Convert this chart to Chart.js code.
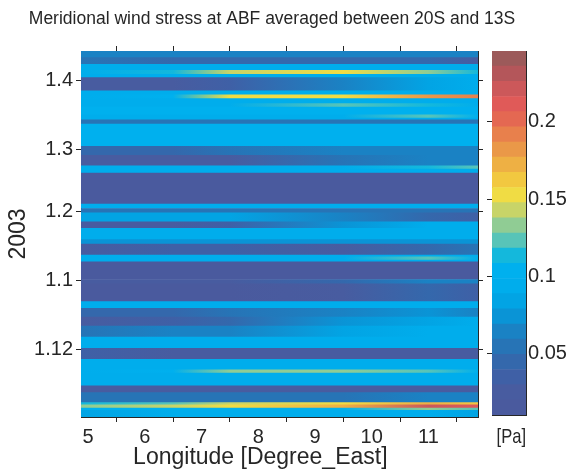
<!DOCTYPE html>
<html>
<head>
<meta charset="utf-8">
<script src="https://cdn.jsdelivr.net/npm/chart.js@4.4.1/dist/chart.umd.min.js"></script>
<style>
  html, body { margin: 0; padding: 0; background: #fff; }
  #wrap { position: relative; width: 572px; height: 472px; }
  #wrap canvas { position: absolute; top: 0; }
  #mapCanvas { left: 0; }
  #barCanvas { left: 480px; }
</style>
</head>
<body>
<div id="wrap">
  <canvas id="mapCanvas" width="572" height="472"></canvas>
  <canvas id="barCanvas" width="92" height="472"></canvas>
</div>
<script>
const FONT = '"Liberation Sans", Arial, Helvetica, sans-serif';
const INK = '#262626';

// time axis: days counted from 1 Jan 2003
const dayStart = -61.5;
const dayEnd = 103.5;
const dateTicks = [-31, 0, 31, 59, 90];
const dateLabels = ['1.12', '1.1', '1.2', '1.3', '1.4'];

// longitude axis
const lonMin = 4.875;
const lonMax = 11.875;
const lonTicks = [5, 6, 7, 8, 9, 10, 11];
const lonAnchors = [4.875, 6.5, 7.5, 9.5, 11, 11.875];

// bands of days (bottom to top), upper edge of each band
const bandTop = [-58.5, -57.5, -56, -55, -50.5, -47.5, -41.75, -40.25, -35.5, -30.5,
  -25.5, -20.5, -16.5, -12.5, -9.5, -1.5, 0.5, 8.5, 9.25, 10.75,
  11.5, 16.5, 18.5, 23.5, 26.5, 30.5, 32.5, 34.5, 48.5, 50.25,
  51.75, 56.5, 60.5, 70.5, 72.5, 73.25, 74.75, 78.25, 79.75, 82,
  83.75, 85.5, 91.5, 93, 94.75, 97.5, 100.5, 103.5];

// meridional wind stress [Pa] of each band at the anchor longitudes
const tau49 = [0.085, 0.1, 0.13, 0.11, 0.055, 0.025, 0.095, 0.095, 0.095, 0.035,
  0.095, 0.055, 0.03, 0.04, 0.095, 0.02, 0.025, 0.02, 0.09, 0.09,
  0.09, 0.03, 0.07, 0.095, 0.025, 0.085, 0.055, 0.09, 0.02, 0.095,
  0.09, 0.025, 0.04, 0.1, 0.05, 0.095, 0.095, 0.1, 0.095, 0.095,
  0.095, 0.095, 0.025, 0.09, 0.095, 0.095, 0.05, 0.06];
const tau65 = [0.09, 0.1, 0.14, 0.125, 0.055, 0.025, 0.095, 0.1, 0.095, 0.03,
  0.095, 0.06, 0.035, 0.045, 0.095, 0.02, 0.03, 0.02, 0.09, 0.09,
  0.09, 0.035, 0.07, 0.095, 0.03, 0.08, 0.055, 0.09, 0.02, 0.095,
  0.09, 0.03, 0.045, 0.1, 0.05, 0.095, 0.095, 0.1, 0.095, 0.095,
  0.1, 0.095, 0.03, 0.09, 0.115, 0.095, 0.045, 0.06];
const tau75 = [0.09, 0.1, 0.152, 0.145, 0.055, 0.025, 0.095, 0.13, 0.095, 0.03,
  0.095, 0.06, 0.045, 0.05, 0.095, 0.02, 0.03, 0.02, 0.09, 0.09,
  0.09, 0.035, 0.07, 0.095, 0.035, 0.08, 0.055, 0.09, 0.02, 0.095,
  0.09, 0.03, 0.05, 0.1, 0.05, 0.095, 0.095, 0.1, 0.095, 0.095,
  0.153, 0.095, 0.035, 0.09, 0.145, 0.095, 0.045, 0.06];
const tau95 = [0.09, 0.1, 0.175, 0.152, 0.055, 0.03, 0.095, 0.13, 0.095, 0.03,
  0.095, 0.085, 0.075, 0.065, 0.095, 0.03, 0.045, 0.02, 0.09, 0.09,
  0.09, 0.03, 0.07, 0.095, 0.07, 0.065, 0.055, 0.09, 0.02, 0.095,
  0.095, 0.055, 0.06, 0.1, 0.05, 0.095, 0.095, 0.1, 0.125, 0.095,
  0.156, 0.095, 0.065, 0.09, 0.148, 0.095, 0.045, 0.06];
const tau110 = [0.09, 0.13, 0.225, 0.17, 0.06, 0.03, 0.095, 0.125, 0.095, 0.03,
  0.095, 0.09, 0.085, 0.07, 0.095, 0.04, 0.06, 0.02, 0.09, 0.125,
  0.09, 0.04, 0.07, 0.095, 0.09, 0.04, 0.055, 0.09, 0.02, 0.095,
  0.115, 0.06, 0.06, 0.1, 0.05, 0.095, 0.125, 0.1, 0.115, 0.095,
  0.178, 0.095, 0.085, 0.09, 0.135, 0.095, 0.04, 0.065];
const tau119 = [0.085, 0.12, 0.215, 0.16, 0.06, 0.03, 0.095, 0.1, 0.095, 0.03,
  0.095, 0.09, 0.09, 0.06, 0.095, 0.035, 0.06, 0.02, 0.09, 0.09,
  0.09, 0.05, 0.07, 0.095, 0.09, 0.035, 0.055, 0.09, 0.02, 0.095,
  0.125, 0.06, 0.06, 0.1, 0.05, 0.095, 0.105, 0.1, 0.095, 0.095,
  0.188, 0.095, 0.09, 0.09, 0.115, 0.095, 0.03, 0.06];
const tauCols = [tau49, tau65, tau75, tau95, tau110, tau119];

// colour scale
const cMin = 0.0105;
const cMax = 0.2457;
const cbTicks = [0.05, 0.1, 0.15, 0.2];
const cbLabels = ['0.05', '0.1', '0.15', '0.2'];
const cmap = ['#4a5a9e', '#485ca0', '#3f60a6', '#3468ac', '#2774b6', '#1a82c4',
  '#0a94d6', '#02a4e4', '#00adec', '#00b0ee', '#14b8dc', '#58c4b8',
  '#90cc94', '#c8d468', '#f0dc44', '#f2c840', '#eeb044', '#ea9848',
  '#e8804c', '#e46852', '#e05a58', '#cc585a', '#b4565a', '#9c5a5a'];

function colorFor(v) {
  let k = Math.floor((v - cMin) / (cMax - cMin) * cmap.length);
  k = Math.max(0, Math.min(cmap.length - 1, k));
  return cmap[k];
}

// horizontal shading of one band between its anchor values
function rowGradient(chart, vals) {
  const xs = chart.scales.x;
  if (!xs || !chart.chartArea) return cmap[0];
  const x0 = xs.getPixelForValue(lonMin);
  const x1 = xs.getPixelForValue(lonMax);
  const g = chart.ctx.createLinearGradient(x0, 0, x1, 0);
  lonAnchors.forEach((lon, i) => {
    g.addColorStop((xs.getPixelForValue(lon) - x0) / (x1 - x0), colorFor(vals[i]));
  });
  return g;
}

const bandSets = bandTop.map((top, b) => {
  const bottom = b === 0 ? dayStart : bandTop[b - 1];
  const vals = tauCols.map(col => col[b]);
  return {
    data: [[bottom, top]],
    xAxisID: 'band',
    yAxisID: 'y',
    backgroundColor: ctx => rowGradient(ctx.chart, vals)
  };
});

const frameGrid = { display: true, drawOnChartArea: false, drawTicks: true, tickLength: 5, color: INK, lineWidth: 1 };
const frameBorder = { display: true, color: INK, width: 1 };
const setDateTicks = s => { s.ticks = dateTicks.map(v => ({ value: v })); };
const setLonTicks = s => { s.ticks = lonTicks.map(v => ({ value: v })); };

new Chart(document.getElementById('mapCanvas'), {
  type: 'bar',
  data: { labels: [''], datasets: bandSets },
  options: {
    responsive: false,
    animation: false,
    events: [],
    datasets: { bar: { grouped: false, categoryPercentage: 1, barPercentage: 1, borderWidth: 0 } },
    layout: { padding: { left: 0, right: 28, top: 0, bottom: 0 } },
    plugins: {
      legend: { display: false },
      tooltip: { enabled: false },
      title: {
        display: true,
        text: 'Meridional wind stress at ABF averaged between 20S and 13S',
        color: INK,
        font: { family: FONT, size: 17.5, weight: 'normal', lineHeight: 1.2 },
        padding: { top: 8.5, bottom: 16.5 }
      }
    },
    scales: {
      band: { type: 'category', axis: 'x', position: 'bottom', display: false },
      x: {
        type: 'linear', position: 'bottom', min: lonMin, max: lonMax, offset: false,
        afterBuildTicks: setLonTicks,
        ticks: { color: INK, font: { family: FONT, size: 20 }, padding: 3, maxRotation: 0, autoSkip: false },
        grid: frameGrid,
        border: frameBorder,
        title: {
          display: true,
          // trailing no-break spaces move the label a little left of the axis centre
          text: 'Longitude [Degree_East]' + '\u00a0'.repeat(6),
          color: INK, font: { family: FONT, size: 23, lineHeight: 1.2 }, padding: { top: 0, bottom: 0.5 }
        },
        afterFit: s => { s.height = 55; }
      },
      xTop: {
        type: 'linear', axis: 'x', position: 'top', min: lonMin, max: lonMax, offset: false,
        afterBuildTicks: setLonTicks,
        ticks: { display: false },
        grid: frameGrid,
        border: frameBorder,
        afterFit: s => { s.height = 5; }
      },
      y: {
        type: 'linear', position: 'left', min: dayStart, max: dayEnd,
        afterBuildTicks: setDateTicks,
        ticks: {
          color: INK, font: { family: FONT, size: 20 }, padding: 3, autoSkip: false,
          callback: v => dateLabels[dateTicks.indexOf(v)]
        },
        grid: frameGrid,
        border: frameBorder,
        title: { display: true, text: '2003', color: INK, font: { family: FONT, size: 23, lineHeight: 1.2 }, padding: { top: 5, bottom: 0 } },
        afterFit: s => { s.width = 81; }
      },
      yRight: {
        type: 'linear', axis: 'y', position: 'right', min: dayStart, max: dayEnd,
        afterBuildTicks: setDateTicks,
        ticks: { display: false },
        grid: frameGrid,
        border: frameBorder,
        afterFit: s => { s.width = 66; }
      }
    }
  }
});

// colour bar
const step = (cMax - cMin) / cmap.length;
const cbSets = cmap.map((c, i) => ({
  data: [[cMin + i * step, cMin + (i + 1) * step]],
  xAxisID: 'cb',
  yAxisID: 'v',
  backgroundColor: c
}));

new Chart(document.getElementById('barCanvas'), {
  type: 'bar',
  data: { labels: [''], datasets: cbSets },
  options: {
    responsive: false,
    animation: false,
    events: [],
    datasets: { bar: { grouped: false, categoryPercentage: 1, barPercentage: 1, borderWidth: 0 } },
    layout: { padding: { left: 0, right: 0, top: 51, bottom: 0 } },
    plugins: { legend: { display: false }, tooltip: { enabled: false } },
    scales: {
      cb: {
        type: 'category', position: 'bottom',
        ticks: { display: false },
        grid: { display: false },
        border: frameBorder,
        title: { display: true, text: '\u00a0[Pa]', color: INK, font: { family: FONT, size: 21, lineHeight: 1.2 }, padding: { top: 0, bottom: 22.5 } },
        afterFit: s => { s.height = 57; }
      },
      cbTop: {
        type: 'category', axis: 'x', position: 'top',
        ticks: { display: false },
        grid: { display: false },
        border: frameBorder,
        afterFit: s => { s.height = 0; }
      },
      v: {
        type: 'linear', position: 'right', min: cMin, max: cMax,
        afterBuildTicks: s => { s.ticks = cbTicks.map(v => ({ value: v })); },
        ticks: {
          color: INK, font: { family: FONT, size: 20 }, padding: 2, autoSkip: false,
          callback: v => cbLabels[cbTicks.indexOf(v)]
        },
        grid: { display: true, drawOnChartArea: false, drawTicks: false, color: INK },
        border: frameBorder,
        afterFit: s => { s.width = 46; }
      },
      vLeft: {
        type: 'linear', axis: 'y', position: 'left', min: cMin, max: cMax,
        afterBuildTicks: s => { s.ticks = cbTicks.map(v => ({ value: v })); },
        ticks: { display: false },
        grid: frameGrid,
        border: frameBorder,
        afterFit: s => { s.width = 12; }
      }
    }
  }
});
</script>
</body>
</html>
